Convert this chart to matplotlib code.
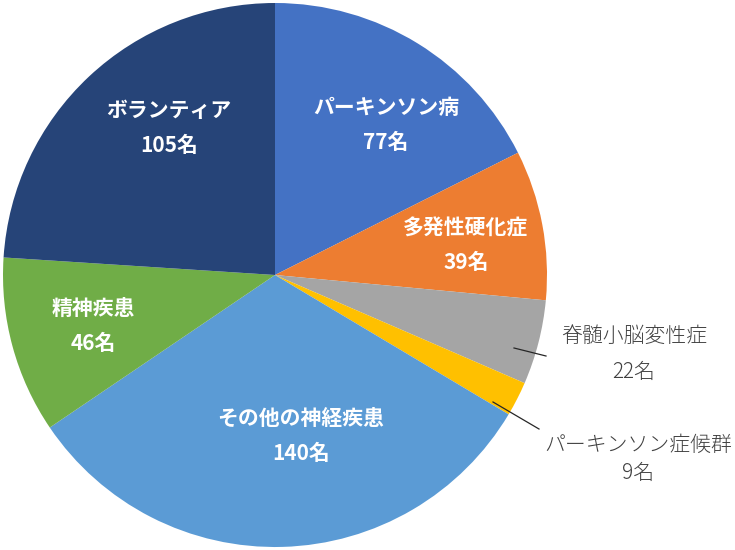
import numpy as np
import matplotlib.pyplot as plt

plt.rcParams['font.family'] = ['Noto Sans CJK JP', 'DejaVu Sans']

# データ
categories = ['パーキンソン病', '多発性硬化症', '脊髄小脳変性症', 'パーキンソン症候群',
              'その他の神経疾患', '精神疾患', 'ボランティア']
counts = [77, 39, 22, 9, 140, 46, 105]
colors = ['#4472C4', '#ED7D31', '#A5A5A5', '#FFC000', '#5B9BD5', '#70AD47', '#264478']

W, H = 735, 550
cx, cy, R = 275, 275, 272

fig = plt.figure(figsize=(W / 100, H / 100), dpi=100)
ax = fig.add_axes([(cx - R) / W, (H - cy - R) / H, 2 * R / W, 2 * R / H])
ax.pie(counts, colors=colors, startangle=90, counterclock=False, radius=1,
       wedgeprops=dict(linewidth=0))
ax.set_xlim(-1, 1)
ax.set_ylim(-1, 1)
ax.set_aspect('equal')
ax.axis('off')


def to_data(px, py):
    return (px - cx) / R, (cy - py) / R


# ラベル位置(ピクセル)
inner_pos = {0: (386, 125), 1: (466, 245), 4: (301, 436), 5: (93, 326), 6: (169, 128)}
for i, (px, py) in inner_pos.items():
    x, y = to_data(px, py)
    ax.text(x, y, f'{categories[i]}\n{counts[i]}名', ha='center', va='center',
            color='white', fontsize=15, fontweight='bold', linespacing=1.8)

# 外側ラベル
x, y = to_data(634, 354)
ax.text(x, y, f'{categories[2]}\n{counts[2]}名', ha='center', va='center',
        color='#404040', fontsize=15, fontweight='light', linespacing=1.85)
x, y = to_data(638, 459)
ax.text(x, y, f'{categories[3]}\n{counts[3]}名', ha='center', va='center',
        color='#404040', fontsize=15, fontweight='light', linespacing=1.3)

# 引き出し線
for (p1, p2) in [((514, 348), (546, 356)), ((493, 402), (539, 429))]:
    a = to_data(*p1)
    b = to_data(*p2)
    ax.plot([a[0], b[0]], [a[1], b[1]], color='#262626', lw=0.9, clip_on=False)

fig.savefig('out.png', dpi=100)
